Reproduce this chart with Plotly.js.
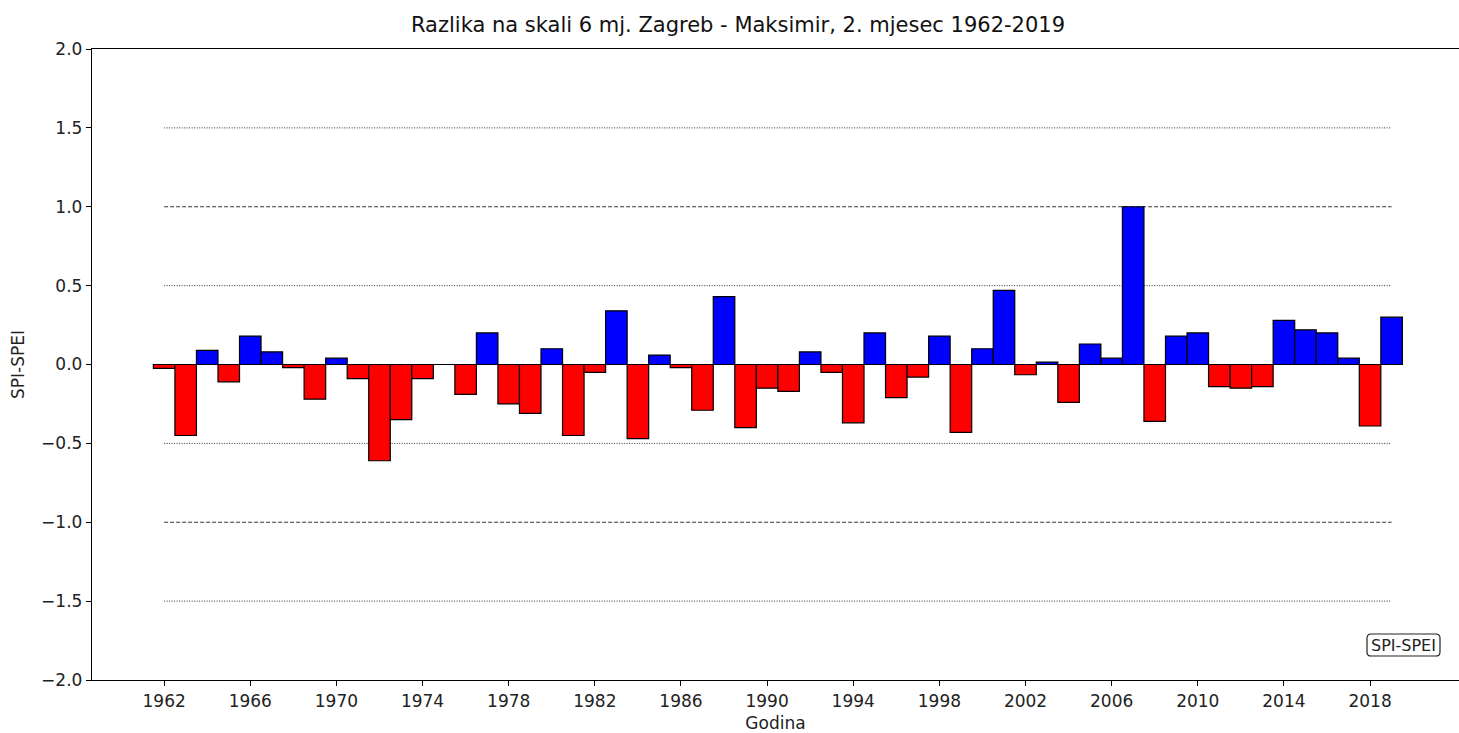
<!DOCTYPE html>
<html>
<head>
<meta charset="utf-8">
<script src="https://cdn.plot.ly/plotly-3.0.1.min.js"></script>
<style>html,body{margin:0;padding:0;background:#fff;}#chart{width:1459px;height:733px;}</style>
</head>
<body>
<div id="chart"></div>
<script>
const years = [];
for (let y = 1962; y <= 2019; y++) years.push(y);
const diffValues = [
  -0.025, -0.45, 0.09, -0.11, 0.18, 0.08, -0.02, -0.22, 0.04, -0.09,
  -0.61, -0.35, -0.09, 0.0, -0.19, 0.20, -0.25, -0.31, 0.10, -0.45,
  -0.05, 0.34, -0.47, 0.06, -0.02, -0.29, 0.43, -0.40, -0.15, -0.17,
  0.08, -0.05, -0.37, 0.20, -0.21, -0.08, 0.18, -0.43, 0.10, 0.47,
  -0.065, 0.015, -0.24, 0.13, 0.04, 1.00, -0.36, 0.18, 0.20, -0.14,
  -0.15, -0.14, 0.28, 0.22, 0.20, 0.04, -0.39, 0.30
];
const xTicks = [1962,1966,1970,1974,1978,1982,1986,1990,1994,1998,2002,2006,2010,2014,2018];
const yTicks = [-2.0,-1.5,-1.0,-0.5,0.0,0.5,1.0,1.5,2.0];
const refLevels = [-1.5,-1.0,-0.5,0.5,1.0,1.5];

const colors = diffValues.map(v => v >= 0 ? '#0000ff' : '#ff0000');
const FONT = 'DejaVu Sans, sans-serif';

const trace = {
  type: 'bar', x: years, y: diffValues, width: 1,
  marker: {color: colors, line: {color: '#000', width: 1.2}},
  hoverinfo: 'x+y', showlegend: false
};

const shapes = refLevels.map(v => ({
  type: 'line', xref: 'x', yref: 'y', x0: years[0], x1: years[years.length-1], y0: v, y1: v,
  line: {color: '#000', width: 0.8, dash: Math.abs(v) === 1.0 ? '4px,2px' : '1px,1.5px'}, layer: 'below'
}));
shapes.push({
  type: 'line', xref: 'x', yref: 'y', x0: years[0]-0.5, x1: years[years.length-1]+0.5, y0: 0, y1: 0,
  line: {color: '#000', width: 1.2}, layer: 'above'
});
// legend box (rounded)
const LB = {x0: 0.9327, x1: 0.9861, y0: 0.0380, y1: 0.0729};
(function(){
  const {x0, x1, y0, y1} = LB, rx = 0.003, ry = 0.0065;
  shapes.push({
    type: 'path', xref: 'paper', yref: 'paper',
    path: `M ${x0+rx},${y0} L ${x1-rx},${y0} Q ${x1},${y0} ${x1},${y0+ry} L ${x1},${y1-ry} Q ${x1},${y1} ${x1-rx},${y1} L ${x0+rx},${y1} Q ${x0},${y1} ${x0},${y1-ry} L ${x0},${y0+ry} Q ${x0},${y0} ${x0+rx},${y0} Z`,
    line: {color: '#222', width: 1.2}, fillcolor: 'rgba(255,255,255,0.8)'
  });
})();

const layout = {
  width: 1459, height: 733,
  margin: {l: 92, r: 0, t: 49, b: 53},
  paper_bgcolor: '#fff', plot_bgcolor: '#fff',
  font: {family: FONT, size: 17, color: '#222'},
  title: {text: 'Razlika na skali 6 mj. Zagreb - Maksimir, 2. mjesec 1962-2019',
          font: {family: FONT, size: 21, color: '#111'},
          x: 738/1459, xref: 'container', xanchor: 'center', y: 1 - 25/733, yref: 'container', yanchor: 'middle'},
  xaxis: {
    range: [1958.65, 2022.13], tickmode: 'array', tickvals: xTicks, ticktext: xTicks.map(String),
    ticks: 'outside', ticklen: 5, tickwidth: 1, tickcolor: '#000',
    showline: true, linecolor: '#000', linewidth: 1.2, mirror: true,
    showgrid: false, zeroline: false,
    tickfont: {family: FONT, size: 17, color: '#222'},
    title: {text: 'Godina', font: {family: FONT, size: 17, color: '#222'}, standoff: 7}
  },
  yaxis: {
    range: [-2, 2], tickmode: 'array', tickvals: yTicks, ticktext: yTicks.map(v => (v < 0 ? '\u2212' : '') + Math.abs(v).toFixed(1)),
    ticks: 'outside', ticklen: 5, tickwidth: 1, tickcolor: '#000',
    showline: true, linecolor: '#000', linewidth: 1.2, mirror: false,
    showgrid: false, zeroline: false,
    tickfont: {family: FONT, size: 17, color: '#222'},
    title: {text: 'SPI-SPEI', font: {family: FONT, size: 17, color: '#222'}, standoff: 12}
  },
  shapes: shapes,
  annotations: [{
    xref: 'paper', yref: 'paper', x: (LB.x0+LB.x1)/2, y: (LB.y0+LB.y1)/2,
    text: 'SPI-SPEI', showarrow: false, xanchor: 'center', yanchor: 'middle',
    font: {family: FONT, size: 16, color: '#222'}
  }],
  bargap: 0
};

Plotly.newPlot('chart', [trace], layout, {displayModeBar: false, staticPlot: true});
</script>
</body>
</html>
